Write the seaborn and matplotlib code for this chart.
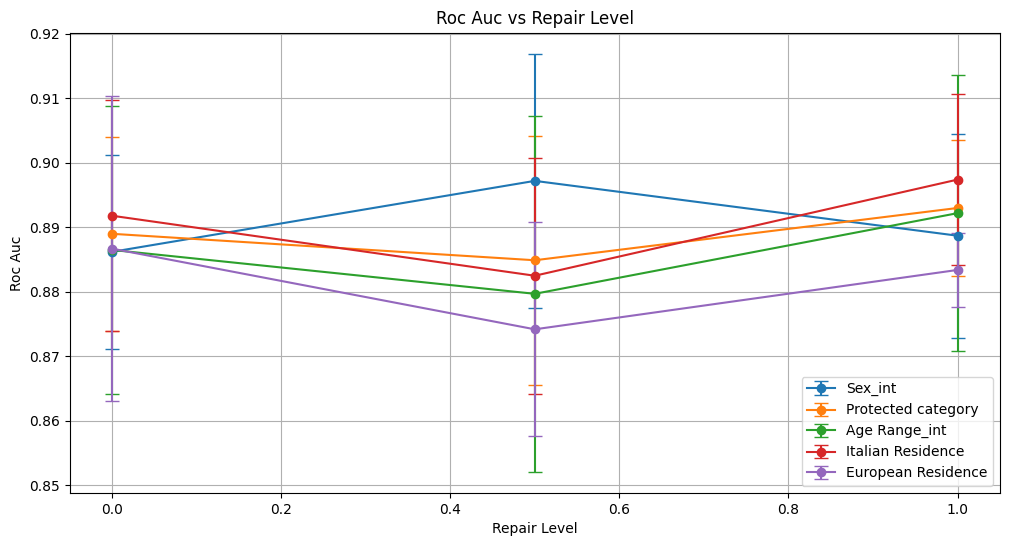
import numpy as np
import seaborn as sns
import matplotlib
matplotlib.use('Agg')
import matplotlib.pyplot as plt

# Roc Auc per repair level, mean and std for each protected attribute
repair_levels = [0.0, 0.5, 1.0]
attributes = ['Sex_int', 'Protected category', 'Age Range_int', 'Italian Residence', 'European Residence']

sex_mean = [0.8862, 0.8972, 0.8887]
sex_std = [0.0150, 0.0197, 0.0158]
prot_mean = [0.8890, 0.8849, 0.8930]
prot_std = [0.0150, 0.0193, 0.0106]
age_mean = [0.8865, 0.8797, 0.8922]
age_std = [0.0223, 0.0276, 0.0214]
ital_mean = [0.8918, 0.8825, 0.8974]
ital_std = [0.0179, 0.0183, 0.0133]
euro_mean = [0.8867, 0.8742, 0.8834]
euro_std = [0.0236, 0.0166, 0.0058]

means = [sex_mean, prot_mean, age_mean, ital_mean, euro_mean]
stds = [sex_std, prot_std, age_std, ital_std, euro_std]

colors = sns.color_palette('tab10', len(attributes))

fig, ax = plt.subplots(figsize=(10.1, 5.47), dpi=100)
for name, m, s, c in zip(attributes, means, stds, colors):
    ax.errorbar(repair_levels, m, yerr=s, marker='o', capsize=5, label=name, color=c)

ax.set_title('Roc Auc vs Repair Level')
ax.set_xlabel('Repair Level')
ax.set_ylabel('Roc Auc')
ax.grid(True)
ax.legend(loc='lower right')
plt.subplots_adjust(left=0.069, right=0.990, top=0.94, bottom=0.099)
plt.savefig('out.png')
